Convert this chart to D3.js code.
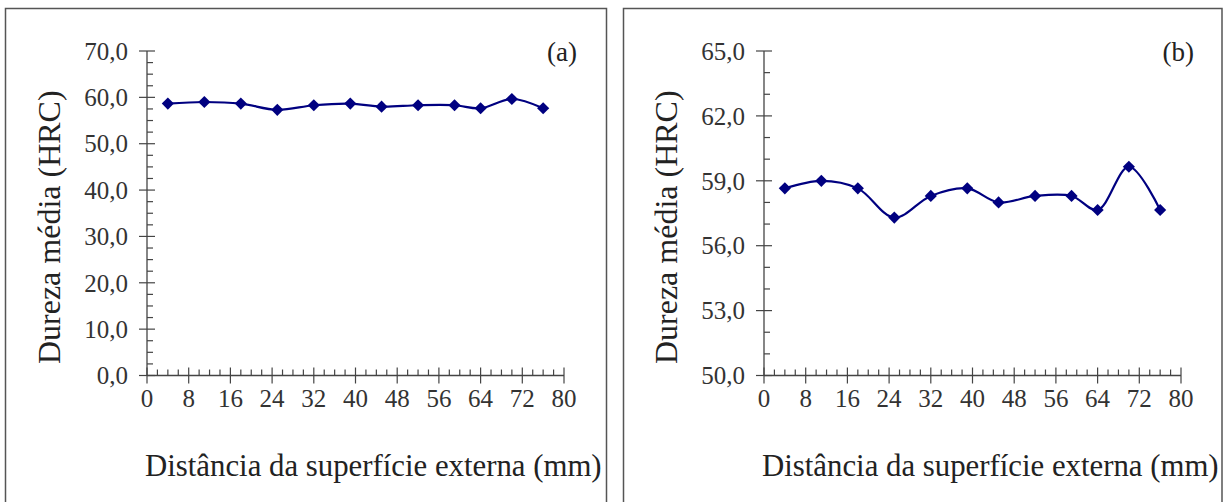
<!DOCTYPE html>
<html>
<head>
<meta charset="utf-8">
<script src="https://cdn.jsdelivr.net/npm/d3@7"></script>
<style>
  body { margin: 0; background: #fff; }
</style>
</head>
<body>
<div id="chart"></div>
<script>
(function () {
  const WIDTH = 1225;
  const HEIGHT = 502;
  const FONT = "'Liberation Serif', 'Times New Roman', Times, serif";

  // data (same series in both panels, different y range)
  const distances = [4, 11, 18, 25, 32, 39, 45, 52, 59, 64, 70, 76];
  const hardness = [58.65, 59.0, 58.65, 57.3, 58.3, 58.65, 58.0, 58.3, 58.3, 57.65, 59.65, 57.65];

  const xTicks = [0, 8, 16, 24, 32, 40, 48, 56, 64, 72, 80];
  const yTicksA = [0, 10, 20, 30, 40, 50, 60, 70];
  const yTicksB = [50, 53, 56, 59, 62, 65];

  const panels = [
    { tag: "(a)", box: [5.5, 8.5, 606.5], x0: 147, yDomain: [0, 70], yTicks: yTicksA, minorStep: 2.5 },
    { tag: "(b)", box: [623.5, 8.5, 1222], x0: 764, yDomain: [50, 65], yTicks: yTicksB, minorStep: 1 }
  ];

  const PLOT_W = 417;
  const Y_TOP = 51;
  const Y_BOT = 375.5;
  const LINE_COLOR = "#000080";
  const AXIS_COLOR = "#444";

  const svg = d3.select("#chart").append("svg")
    .attr("width", WIDTH)
    .attr("height", HEIGHT);

  const fmt = v => d3.format(".1f")(v).replace(".", ",");

  panels.forEach(p => {
    // panel frame (open at the bottom, it runs off the picture)
    const [bx0, by0, bx1] = p.box;
    svg.append("path")
      .attr("d", `M${bx0},${HEIGHT + 2}V${by0}H${bx1}V${HEIGHT + 2}`)
      .attr("fill", "none")
      .attr("stroke", "#555")
      .attr("stroke-width", 1.5);

    const x = d3.scaleLinear().domain([0, 80]).range([p.x0, p.x0 + PLOT_W]);
    const y = d3.scaleLinear().domain(p.yDomain).range([Y_BOT, Y_TOP]);
    const g = svg.append("g");

    // y axis line + ticks
    g.append("line")
      .attr("x1", x(0)).attr("x2", x(0))
      .attr("y1", y(p.yDomain[1])).attr("y2", y(p.yDomain[0]))
      .attr("stroke", AXIS_COLOR).attr("stroke-width", 1.3);

    const yMinor = d3.range(p.yDomain[0], p.yDomain[1] + 1e-6, p.minorStep)
      .filter(v => !p.yTicks.some(t => Math.abs(t - v) < 1e-6));
    g.selectAll("line.ymin").data(yMinor).enter().append("line")
      .attr("x1", x(0)).attr("x2", x(0) + 6)
      .attr("y1", d => y(d)).attr("y2", d => y(d))
      .attr("stroke", AXIS_COLOR).attr("stroke-width", 1.2);
    g.selectAll("line.ymaj").data(p.yTicks).enter().append("line")
      .attr("x1", x(0) - 8).attr("x2", x(0) + 8)
      .attr("y1", d => y(d)).attr("y2", d => y(d))
      .attr("stroke", AXIS_COLOR).attr("stroke-width", 1.2);
    g.selectAll("text.ylab").data(p.yTicks).enter().append("text")
      .attr("x", x(0) - 19)
      .attr("y", d => y(d))
      .attr("dy", "0.35em")
      .attr("text-anchor", "end")
      .style("font-family", FONT)
      .style("font-size", "25px")
      .style("fill", "#333")
      .text(fmt);

    // x axis line + ticks
    g.append("line")
      .attr("x1", x(0)).attr("x2", x(80))
      .attr("y1", Y_BOT).attr("y2", Y_BOT)
      .attr("stroke", AXIS_COLOR).attr("stroke-width", 1.3);
    const xMinor = d3.range(0, 80.01, 2).filter(v => v % 8 !== 0);
    g.selectAll("line.xmin").data(xMinor).enter().append("line")
      .attr("x1", d => x(d)).attr("x2", d => x(d))
      .attr("y1", Y_BOT).attr("y2", Y_BOT - 6)
      .attr("stroke", AXIS_COLOR).attr("stroke-width", 1.2);
    g.selectAll("line.xmaj").data(xTicks).enter().append("line")
      .attr("x1", d => x(d)).attr("x2", d => x(d))
      .attr("y1", Y_BOT - 8).attr("y2", Y_BOT + 8)
      .attr("stroke", AXIS_COLOR).attr("stroke-width", 1.2);
    g.selectAll("text.xlab").data(xTicks).enter().append("text")
      .attr("x", d => x(d))
      .attr("y", 407)
      .attr("text-anchor", "middle")
      .style("font-family", FONT)
      .style("font-size", "25px")
      .style("fill", "#333")
      .text(d => d);

    // axis titles
    g.append("text")
      .attr("transform", `translate(${p.x0 - 87}, ${(Y_TOP + Y_BOT) / 2 + 14}) rotate(-90)`)
      .attr("text-anchor", "middle")
      .style("font-family", FONT)
      .style("font-size", "32px")
      .style("fill", "#222")
      .text("Dureza média (HRC)");
    g.append("text")
      .attr("x", p.x0 - 2)
      .attr("y", 476)
      .style("font-family", FONT)
      .style("font-size", "30.8px")
      .style("fill", "#222")
      .text("Distância da superfície externa (mm)");

    // panel tag
    g.append("text")
      .attr("x", p.x0 + PLOT_W + 13)
      .attr("y", 61)
      .attr("text-anchor", "end")
      .style("font-family", FONT)
      .style("font-size", "27px")
      .style("fill", "#222")
      .text(p.tag);

    // smoothed series + diamond markers
    const pts = distances.map((d, i) => [d, hardness[i]]);
    const line = d3.line()
      .x(d => x(d[0]))
      .y(d => y(d[1]))
      .curve(d3.curveCatmullRom.alpha(0.5));
    g.append("path")
      .datum(pts)
      .attr("d", line)
      .attr("fill", "none")
      .attr("stroke", LINE_COLOR)
      .attr("stroke-width", 2.2);

    const diamond = d3.symbol().type(d3.symbolSquare).size(74);
    g.selectAll("path.mk").data(pts).enter().append("path")
      .attr("class", "mk")
      .attr("d", diamond)
      .attr("transform", d => `translate(${x(d[0])},${y(d[1])}) rotate(45)`)
      .attr("fill", LINE_COLOR);
  });
})();
</script>
</body>
</html>
